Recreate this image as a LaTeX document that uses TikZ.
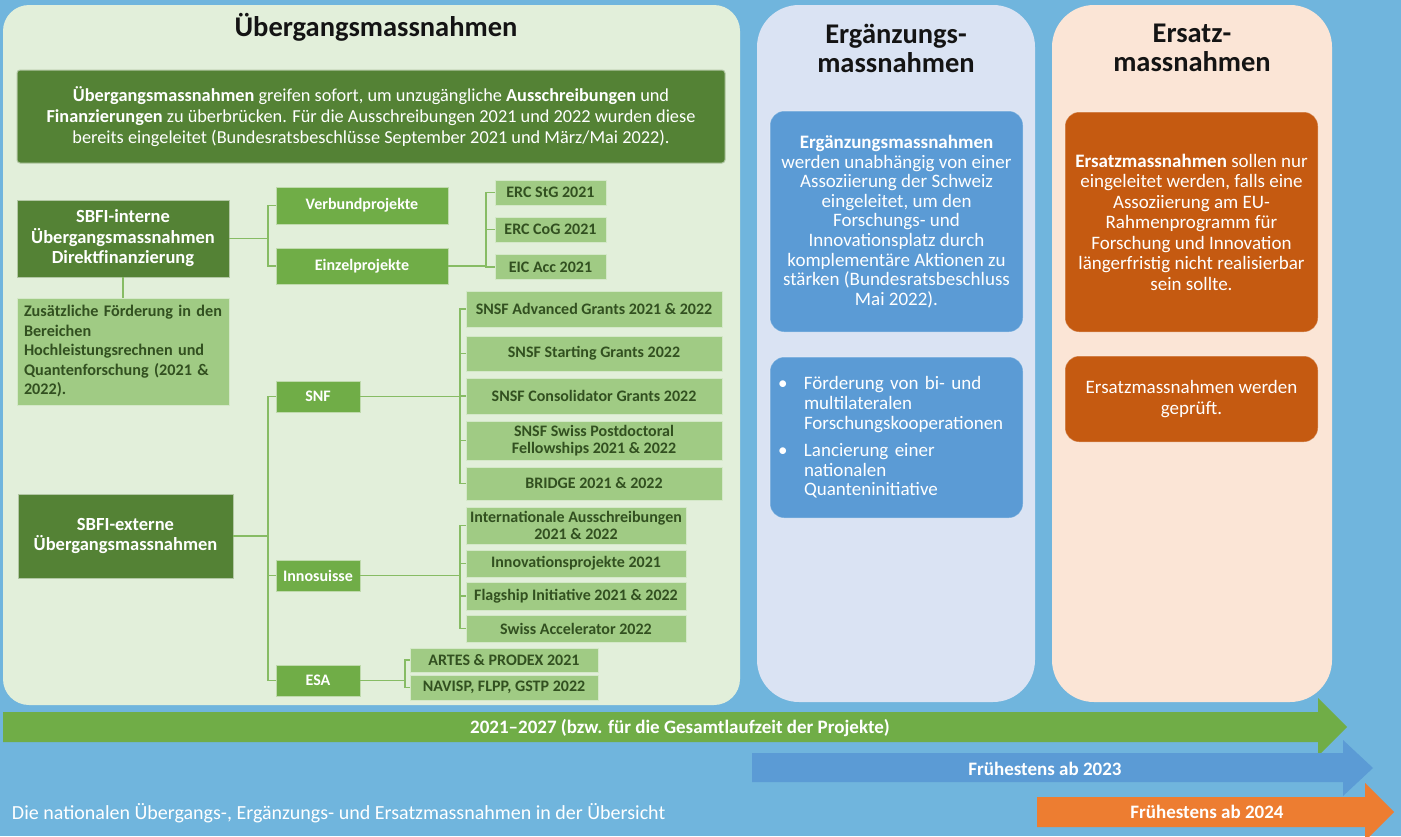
\documentclass[tikz,border=0pt]{standalone}
\usepackage{fontspec}
\setmainfont{Carlito}
\usetikzlibrary{positioning}

\definecolor{bgblue}{RGB}{112,181,221}
\definecolor{panelgreen}{RGB}{226,239,218}
\definecolor{panelblue}{RGB}{218,227,243}
\definecolor{panelpeach}{RGB}{251,229,214}
\definecolor{darkgreen}{RGB}{84,130,53}
\definecolor{midgreen}{RGB}{112,173,71}
\definecolor{lightgreen}{RGB}{160,203,132}
\definecolor{textgreen}{RGB}{50,80,32}
\definecolor{linegreen}{RGB}{135,188,100}
\definecolor{boxblue}{RGB}{91,155,213}
\definecolor{boxorange}{RGB}{197,90,17}
\definecolor{arroworange}{RGB}{237,125,49}
\definecolor{titlegray}{RGB}{20,20,20}

\newcommand\fsz[2]{\fontsize{#1pt}{#2pt}\selectfont}

\begin{document}
\begin{tikzpicture}[x=1pt, y=-1pt,
  every node/.style={inner sep=0pt, outer sep=0pt},
  sz/.style 2 args={minimum width=#1pt, minimum height=#2pt},
  ttl/.style={font=\bfseries\fsz{28.5}{29}, text=titlegray, align=center},
  darkbox/.style={fill=darkgreen, draw=white!55!darkgreen, line width=1pt, text=white, align=center, font=\bfseries\fsz{18.5}{20.5}},
  midbox/.style={fill=midgreen, draw=white!55!midgreen, line width=1pt, text=white, font=\bfseries\fsz{16}{18}},
  lightbox/.style={fill=lightgreen, draw=white!55!lightgreen, line width=1pt, text=textgreen, align=center, font=\bfseries\fsz{16}{17.5}},
  conn/.style={draw=linegreen, line width=1.2pt},
  infobox/.style={rounded corners=14pt, draw=white, draw opacity=0.35, line width=1pt, text=white, align=center, font=\fsz{19}{19.6}},
  band/.style={font=\bfseries\fsz{19}{20}, text=white}
]

% background and panels
\fill[bgblue] (0,0) rectangle (1401,836);
\useasboundingbox (0,0) rectangle (1401,836);
\fill[panelgreen, rounded corners=26pt] (3,5) rectangle (740,705);
\fill[panelblue, rounded corners=42pt] (757,5) rectangle (1035,702);
\fill[panelpeach, rounded corners=42pt] (1052,5) rectangle (1332,702);

\node[ttl] (tueb) at (376,27) {Übergangsmassnahmen};
\node[ttl] (terg) at (896,48) {Ergänzungs-\\massnahmen};
\node[ttl] (ters) at (1192,48) {Ersatz-\\massnahmen};

% Uebergangsmassnahmen
\node[darkbox, sz={708}{93}, rounded corners=3pt, font=\fsz{18.3}{21}] (intro) at (371,116.5)
  {\textbf{Übergangsmassnahmen} greifen sofort, um unzugängliche \textbf{Ausschreibungen} und\\
   \textbf{Finanzierungen} zu überbrücken. Für die Ausschreibungen 2021 und 2022 wurden diese\\
   bereits eingeleitet (Bundesratsbeschlüsse September 2021 und März/Mai 2022).};

\node[darkbox, sz={212}{77}] (int) at (123,238.5) {SBFI-interne\\Übergangsmassnahmen\\Direktfinanzierung};
\node[lightbox, sz={212}{107}, align=left, text width=198pt, font=\bfseries\fsz{16.2}{19.5}] (zus) at (123,351.5)
  {Zusätzliche Förderung in den\\Bereichen\\Hochleistungsrechnen und\\Quantenforschung (2021 \&\\2022).};
\node[darkbox, sz={215}{84}] (ext) at (125.5,536) {SBFI-externe\\Übergangsmassnahmen};

\node[midbox, sz={172}{37}] (verbund) at (362,205.5) {Verbundprojekte};
\node[midbox, sz={172}{36}] (einzel) at (362,266) {Einzelprojekte};
\node[midbox, sz={84}{31}] (snf) at (318,396.5) {SNF};
\node[midbox, sz={84}{31}] (inno) at (318,575.5) {Innosuisse};
\node[midbox, sz={84}{31}] (esa) at (318,680.5) {ESA};

\node[lightbox, sz={111}{25}] (stg) at (550.5,192.5) {ERC StG 2021};
\node[lightbox, sz={111}{25}] (cog) at (550.5,229.5) {ERC CoG 2021};
\node[lightbox, sz={111}{25}] (eic) at (550.5,267) {EIC Acc 2021};

\node[lightbox, sz={256}{36}] (adv) at (594,309) {SNSF Advanced Grants 2021 \& 2022};
\node[lightbox, sz={256}{35}] (sta) at (594,353.5) {SNSF Starting Grants 2022};
\node[lightbox, sz={256}{36}] (con) at (594,396) {SNSF Consolidator Grants 2022};
\node[lightbox, sz={256}{39}] (pdf) at (594,440.5) {SNSF Swiss Postdoctoral\\Fellowships 2021 \& 2022};
\node[lightbox, sz={256}{33}] (bri) at (594,483.5) {BRIDGE 2021 \& 2022};

\node[lightbox, sz={220}{37}] (ausl) at (576,525.5) {Internationale Ausschreibungen\\2021 \& 2022};
\node[lightbox, sz={220}{27}] (ipr) at (576,563.5) {Innovationsprojekte 2021};
\node[lightbox, sz={220}{28}] (fla) at (576,596) {Flagship Initiative 2021 \& 2022};
\node[lightbox, sz={220}{27}] (sacc) at (576,628.5) {Swiss Accelerator 2022};

\node[lightbox, sz={188}{24}] (art) at (504,660) {ARTES \& PRODEX 2021};
\node[lightbox, sz={188}{25}] (nav) at (504,687.5) {NAVISP, FLPP, GSTP 2022};

% connectors
\draw[conn] (int.south) -- (zus.north);
\draw[conn] (int.east) -- ++(39,0) coordinate (jint);
\foreach \n in {verbund,einzel} \draw[conn] (jint) |- (\n.west);
\draw[conn] (einzel.east) -- ++(38,0) coordinate (jein);
\foreach \n in {stg,cog,eic} \draw[conn] (jein) |- (\n.west);
\draw[conn] (ext.east) -- ++(35,0) coordinate (jext);
\foreach \n in {snf,inno,esa} \draw[conn] (jext) |- (\n.west);
\draw[conn] (snf.east) -- ++(100,0) coordinate (jsnf);
\foreach \n in {adv,sta,con,pdf,bri} \draw[conn] (jsnf) |- (\n.west);
\draw[conn] (inno.east) -- ++(100,0) coordinate (jinno);
\foreach \n in {ausl,ipr,fla,sacc} \draw[conn] (jinno) |- (\n.west);
\draw[conn] (esa.east) -- ++(45,0) coordinate (jesa);
\foreach \n in {art,nav} \draw[conn] (jesa) |- (\n.west);

% Ergaenzungsmassnahmen
\node[infobox, fill=boxblue, sz={253}{221}] (erg1) at (896.5,221.5)
  {\textbf{Ergänzungsmassnahmen}\\werden unabhängig von einer\\Assoziierung der Schweiz\\eingeleitet, um den\\Forschungs- und\\Innovationsplatz durch\\komplementäre Aktionen zu\\stärken (Bundesratsbeschluss\\Mai 2022).};
\node[infobox, fill=boxblue, sz={253}{161}, align=left, text width=237pt] (erg2) at (896.5,437.5)
  {\makebox[26pt][l]{\textbullet}Förderung von bi- und\\\hspace*{26pt}multilateralen\\\hspace*{26pt}Forschungskooperationen\\[8pt]
   \makebox[26pt][l]{\textbullet}Lancierung einer\\\hspace*{26pt}nationalen\\\hspace*{26pt}Quanteninitiative};

% Ersatzmassnahmen
\node[infobox, fill=boxorange, sz={253}{220}, font=\fsz{19}{20.5}] (ers1) at (1191.5,222)
  {\textbf{Ersatzmassnahmen} sollen nur\\eingeleitet werden, falls eine\\Assoziierung am EU-\\Rahmenprogramm für\\Forschung und Innovation\\längerfristig nicht realisierbar\\sein sollte.};
\node[infobox, fill=boxorange, sz={253}{86}, font=\fsz{19}{20.5}] (ers2) at (1191.5,399) {Ersatzmassnahmen werden\\geprüft.};

% time arrows
\fill[midgreen] (3,712) -- (1318,712) -- (1318,698) -- (1347,727) -- (1318,756) -- (1318,742) -- (3,742) -- cycle;
\fill[boxblue] (752,753) -- (1343,753) -- (1343,740) -- (1373,768) -- (1343,796) -- (1343,782) -- (752,782) -- cycle;
\fill[arroworange] (1037,797) -- (1365,797) -- (1365,783) -- (1394,812) -- (1365,841) -- (1365,827) -- (1037,827) -- cycle;
\node[band] (lgruen) at (680,728) {2021–2027 (bzw. für die Gesamtlaufzeit der Projekte)};
\node[band] (lblau) at (1045,769) {Frühestens ab 2023};
\node[band] (lorange) at (1207,812) {Frühestens ab 2024};

\node[anchor=west, text=white, font=\fsz{20}{22}] (caption) at (12,813)
  {Die nationalen Übergangs-, Ergänzungs- und Ersatzmassnahmen in der Übersicht};

\end{tikzpicture}
\end{document}
